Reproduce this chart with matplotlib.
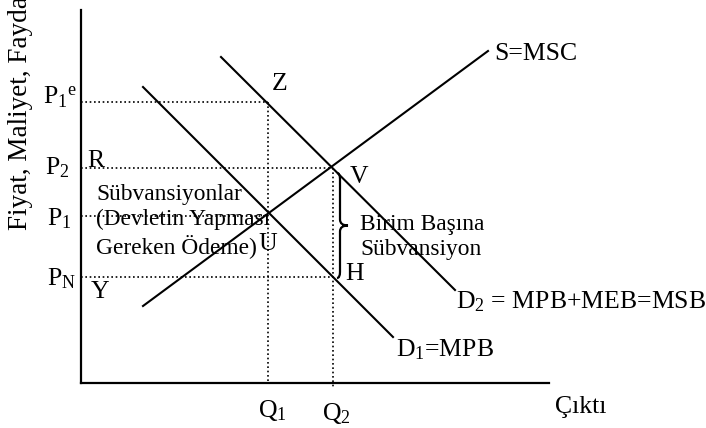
import matplotlib
matplotlib.use('Agg')
import matplotlib.pyplot as plt
from matplotlib.path import Path
from matplotlib.patches import PathPatch

plt.rcParams['font.family'] = ['Liberation Serif', 'DejaVu Serif']
plt.rcParams['mathtext.fontset'] = 'custom'
plt.rcParams['mathtext.rm'] = 'Liberation Serif'
plt.rcParams['mathtext.it'] = 'Liberation Serif:italic'

# === DATA (diagram units, origin at the axis corner) ===
Q1, Q2 = 187, 252
P1e, P2, P1, PN = 281, 215, 167, 106

S_q = [62, 407]
S_p = [77, 332]
D1_q = [62, 312]
D1_p = [296, 46]
D2_q = [140, 374]
D2_p = [326, 93]

BIG = 18.5
SMALL = 16.8
dots = (0, (1, 1.6))

# === FIGURE ===
fig = plt.figure(figsize=(7.06, 4.28), dpi=100)
ax = fig.add_axes([81 / 706, 45 / 428, 468 / 706, 373 / 428])
ax.set_xlim(0, 468)
ax.set_ylim(0, 373)
for side in ['top', 'right']:
    ax.spines[side].set_visible(False)
for side in ['left', 'bottom']:
    ax.spines[side].set_linewidth(1.6)
ax.set_xticks([])
ax.set_yticks([])

# curves
ax.plot(S_q, S_p, color='black', lw=1.5)
ax.plot(D1_q, D1_p, color='black', lw=1.5)
ax.plot(D2_q, D2_p, color='black', lw=1.5)

# dotted guide lines
ax.plot([0, Q1], [P1e, P1e], color='black', lw=1.2, ls=dots)
ax.plot([Q1, Q1], [P1e, 0], color='black', lw=1.2, ls=dots)
ax.plot([0, Q2], [P2, P2], color='black', lw=1.2, ls=dots)
ax.plot([Q2, Q2], [P2, -4], color='black', lw=1.2, ls=dots, clip_on=False)
ax.plot([0, Q1], [P1, P1], color='black', lw=1.2, ls=dots)
ax.plot([0, Q2], [PN, PN], color='black', lw=1.2, ls=dots)

# brace for the unit subsidy
xv, xe, xt = Q2 + 7, Q2 + 4, Q2 + 15
top, bot = P2 - 5, PN - 1
mid = (top + bot) / 2
r = 6
verts = [(xe, top), (xv, top), (xv, top - r),
         (xv, mid + r),
         (xv, mid), (xt, mid),
         (xv, mid), (xv, mid - r),
         (xv, bot + r),
         (xv, bot), (xe, bot)]
codes = [Path.MOVETO, Path.CURVE3, Path.CURVE3,
         Path.LINETO,
         Path.CURVE3, Path.CURVE3,
         Path.CURVE3, Path.CURVE3,
         Path.LINETO,
         Path.CURVE3, Path.CURVE3]
ax.add_patch(PathPatch(Path(verts, codes), fill=False, lw=1.6, color='black'))

# axis labels
ax.text(-54, 153, 'Fiyat, Maliyet, Fayda', rotation=90, rotation_mode='anchor',
        ha='left', va='baseline', fontsize=19.5)
ax.text(474, -30, 'Çıktı', ha='left', va='baseline', fontsize=BIG)

# price labels
ax.text(-38, 279, r'$\mathrm{P}_1{}^{\mathrm{e}}$', ha='left', va='baseline', fontsize=BIG)
ax.text(-36, 209, r'$\mathrm{P}_2$', ha='left', va='baseline', fontsize=BIG)
ax.text(-34, 158, r'$\mathrm{P}_1$', ha='left', va='baseline', fontsize=BIG)
ax.text(-34, 98, r'$\mathrm{P}_\mathrm{N}$', ha='left', va='baseline', fontsize=BIG)

# quantity labels
ax.text(Q1 - 10, -34, r'$\mathrm{Q}_1$', ha='left', va='baseline', fontsize=BIG)
ax.text(Q2 - 11, -37, r'$\mathrm{Q}_2$', ha='left', va='baseline', fontsize=BIG)

# point labels
ax.text(6, 216, 'R', ha='left', va='baseline', fontsize=BIG)
ax.text(191, 293, 'Z', ha='left', va='baseline', fontsize=BIG)
ax.text(269, 200, 'V', ha='left', va='baseline', fontsize=BIG)
ax.text(177, 133, 'U', ha='left', va='baseline', fontsize=BIG)
ax.text(10, 85, 'Y', ha='left', va='baseline', fontsize=BIG)
ax.text(264, 103, 'H', ha='left', va='baseline', fontsize=BIG)

# curve labels
ax.text(413, 323, 'S=MSC', ha='left', va='baseline', fontsize=BIG)
ax.text(375, 75, r'$\mathrm{D}_2$ = MPB+MEB=MSB', ha='left', va='baseline', fontsize=BIG)
ax.text(315, 27, r'$\mathrm{D}_1$=MPB', ha='left', va='baseline', fontsize=BIG)

# explanatory text
ax.text(15, 183, 'Sübvansiyonlar', ha='left', va='baseline', fontsize=SMALL)
ax.text(15, 158, '(Devletin Yapması', ha='left', va='baseline', fontsize=SMALL)
ax.text(15, 130, 'Gereken Ödeme)', ha='left', va='baseline', fontsize=SMALL)
ax.text(279, 153, 'Birim Başına', ha='left', va='baseline', fontsize=SMALL)
ax.text(279, 128, 'Sübvansiyon', ha='left', va='baseline', fontsize=SMALL)

fig.savefig('out.png', dpi=100)
